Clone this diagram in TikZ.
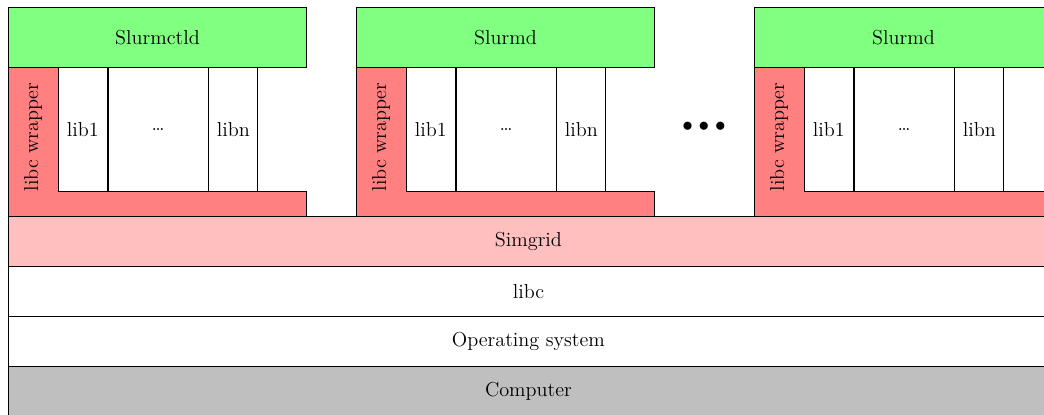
\documentclass[tikz,border=0pt]{standalone}
\usetikzlibrary{positioning}

\tikzset{
  box/.style={draw, line width=0.5pt, inner sep=0pt, anchor=north west,
              font=\fontsize{11.5}{14}\selectfont},
  daemon/.style={box, fill=green!50, minimum width=5.96cm, minimum height=1.2cm},
  lib/.style={box, line width=0.4pt, fill=white, minimum width=0.98cm, minimum height=2.48cm},
  layer/.style={box, minimum width=20.8cm, minimum height=1cm},
  wrapper/.style={fill=red!50, draw, line width=0.5pt}
}

\begin{document}
\begin{tikzpicture}
  \useasboundingbox (0,0) rectangle (20.88,-8.28);

  % one stack per daemon
  \foreach \x/\name/\i in {0/Slurmctld/a, 6.96/Slurmd/b, 14.92/Slurmd/c} {
    \node[daemon] (d-\i) at (\x+0.16,-0.14) {\name};
    \draw[wrapper] (\x+0.16,-1.34) -- (\x+1.16,-1.34) -- (\x+1.16,-3.82)
      -- (\x+6.12,-3.82) -- (\x+6.12,-4.32) -- (\x+0.16,-4.32) -- cycle;
    \node[rotate=90, font=\fontsize{11.5}{14}\selectfont] (w-\i) at (\x+0.66,-2.74) {libc wrapper};
    \node[lib] (l1-\i) at (\x+1.16,-1.34) {lib1};
    \node[lib, minimum width=2cm, right=0pt of l1-\i] (ld-\i) {\dots};
    \node[lib, right=0pt of ld-\i] (ln-\i) {libn};
  }

  \node[font=\fontsize{13}{15}\selectfont] (more) at (14.08,-2.54) {$\bullet\mkern1mu\bullet\mkern1mu\bullet$};

  % shared layers
  \node[layer, fill=red!25] (simgrid) at (0.16,-4.32) {Simgrid};
  \node[layer] (libc) at (0.16,-5.32) {libc};
  \node[layer] (os) at (0.16,-6.32) {Operating system};
  \node[layer, fill=black!25] (hw) at (0.16,-7.32) {Computer};
\end{tikzpicture}
\end{document}
